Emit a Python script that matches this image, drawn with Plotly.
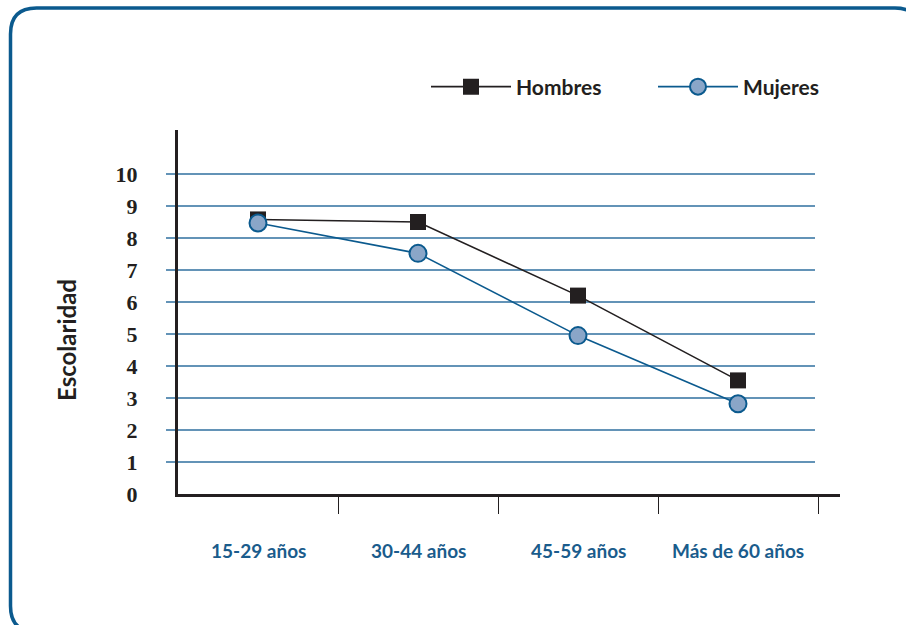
import plotly.graph_objects as go

categories = ["15-29 años", "30-44 años", "45-59 años", "Más de 60 años"]
hombres = [8.58, 8.5, 6.2, 3.55]
mujeres = [8.47, 7.52, 4.95, 2.82]
y_ticks = list(range(0, 11))

W, H = 906, 625
L, R, T, B = 178, 840, 130, 494
pw, ph = R - L, B - T

def px(x):
    return (x - L) / pw

def py(y):
    return (B - y) / ph

BLUE = "#0b5a8e"
BLACK = "#231f20"
FONT = "Lato"

xs = list(range(len(categories)))

fig = go.Figure()
fig.add_trace(go.Scatter(
    x=xs, y=hombres, name="<b>Hombres</b>", mode="lines+markers",
    line=dict(color=BLACK, width=1.6),
    marker=dict(symbol="square", size=16, color=BLACK),
    cliponaxis=False, legend="legend",
))
fig.add_trace(go.Scatter(
    x=xs, y=mujeres, name="<b>Mujeres</b>", mode="lines+markers",
    line=dict(color=BLUE, width=1.6),
    marker=dict(symbol="circle", size=17, color="#8aa6c8", line=dict(color=BLUE, width=2)),
    cliponaxis=False, legend="legend2",
))

shapes = []
# gridlines
for v in y_ticks[1:]:
    shapes.append(dict(type="line", xref="paper", yref="y",
                       x0=px(166), x1=px(815), y0=v, y1=v,
                       line=dict(color="#2f6f9f", width=1.3), layer="below"))
# rounded border
x0, x1, y0, y1, r = 10.5, 921, 8, 632, 26
def P(x, y):
    return f"{px(x):.5f},{py(y):.5f}"
path = (f"M {P(x0+r, y0)} L {P(x1-r, y0)} Q {P(x1, y0)} {P(x1, y0+r)} "
        f"L {P(x1, y1-r)} Q {P(x1, y1)} {P(x1-r, y1)} L {P(x0+r, y1)} "
        f"Q {P(x0, y1)} {P(x0, y1-r)} L {P(x0, y0+r)} Q {P(x0, y0)} {P(x0+r, y0)} Z")
shapes.append(dict(type="path", xref="paper", yref="paper", path=path,
                   line=dict(color=BLUE, width=3.5)))

annotations = []
for i, c in enumerate(categories):
    annotations.append(dict(x=i, y=py(550), xref="x", yref="paper", text=f"<b>{c}</b>",
                            showarrow=False, font=dict(family=FONT, size=19, color="#1a5c8c"),
                            xanchor="center", yanchor="middle"))
annotations.append(dict(x=px(66), y=py(340), xref="paper", yref="paper", text="<b>Escolaridad</b>",
                        textangle=-90, showarrow=False,
                        font=dict(family=FONT, size=24, color=BLACK),
                        xanchor="center", yanchor="middle"))

legend_common = dict(orientation="h", y=py(87), xanchor="left", yanchor="middle",
                     font=dict(family=FONT, size=21, color=BLACK),
                     itemwidth=80, bgcolor="rgba(0,0,0,0)")

fig.update_layout(
    width=W, height=H,
    margin=dict(l=L, r=W - R, t=T, b=H - B),
    paper_bgcolor="white", plot_bgcolor="white",
    showlegend=True,
    legend=dict(x=px(426), **legend_common),
    legend2=dict(x=px(653), **legend_common),
    xaxis=dict(range=[-0.5, 3.5 + 22 / 160], tickvals=[0.5, 1.5, 2.5, 3.5],
               ticktext=["", "", "", ""], ticks="outside", ticklen=17, tickwidth=1.2,
               tickcolor=BLACK, showgrid=False, zeroline=False,
               showline=True, linecolor=BLACK, linewidth=3),
    yaxis=dict(range=[0, ph / 32], tickvals=y_ticks, ticktext=[f"<b>{v}</b>" for v in y_ticks],
               ticks="", showgrid=False, zeroline=False, showline=True,
               linecolor=BLACK, linewidth=3, ticklabelstandoff=33,
               tickfont=dict(family="Liberation Serif", size=22, color=BLACK)),
    shapes=shapes, annotations=annotations,
)
fig.write_html("out.html", post_script="document.body.style.margin='0';",
               config={"displayModeBar": False})
